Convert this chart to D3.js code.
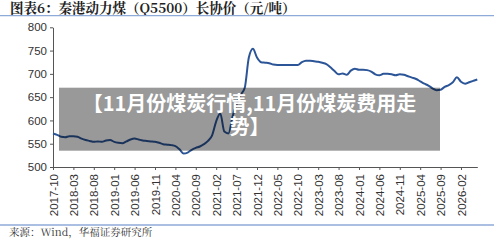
<!DOCTYPE html>
<html lang="zh">
<head>
<meta charset="UTF-8">
<title>秦港动力煤长协价</title>
<script src="https://cdn.jsdelivr.net/npm/d3@7"></script>
<style>
  body { margin: 0; background: #fff; }
  .axis text { font-family: "Liberation Sans", Arial, sans-serif; font-size: 11.5px; fill: #333; }
  .axis path, .axis line { stroke: #555; }
</style>
</head>
<body>
<script>
// 月度数据 2017-10 ~ 2026-06
var startMonth = "2017-10";
var tickLabels = ["2017-10","2018-03","2018-08","2019-01","2019-06","2019-11","2020-04","2020-09",
  "2021-02","2021-07","2021-12","2022-05","2022-10","2023-03","2023-08","2024-01","2024-06",
  "2024-11","2025-04","2025-09","2026-02"];
var yTicks = [500, 550, 600, 650, 700, 750, 800];
var price = [
  572,569,565,564,566,566,565,561,558,556,
  554,555,554,557,558,554,552,551,555,559,
  561,559,557,556,555,554,552,549,548,547,
  545,538,529,531,537,541,544,549,556,568,
  598,615,576,572,608,635,655,670,735,754,
  735,725,724,723,720,719,719,719,719,719,
  719,725,728,728,727,726,724,721,714,706,
  699,701,698,707,711,709,709,708,705,699,
  697,700,700,699,697,699,698,695,692,689,
  684,679,675,669,665,666,672,676,682,693,
  683,679,682,685,688
];

var width = 500, height = 240;
var svg = d3.select("body").append("svg").attr("width", width).attr("height", height);

var t0 = d3.timeParse("%Y-%m")(startMonth);
var fmt = d3.timeFormat("%Y-%m");
var months = price.map(function(d, i) { return fmt(d3.timeMonth.offset(t0, i)); });

// 标题
svg.append("text").attr("x", 10).attr("y", 13)
  .attr("font-family", "'Noto Serif CJK SC','Noto Sans CJK SC',serif")
  .attr("font-weight", "bold").attr("font-size", 13.5).attr("fill", "#222")
  .text("图表6：秦港动力煤（Q5500）长协价（元/吨）");
svg.append("line").attr("x1", 0).attr("x2", 494).attr("y1", 15.7).attr("y2", 15.7)
  .attr("stroke", "#8eaad8").attr("stroke-width", 1.3);

var x = d3.scalePoint().domain(months).range([53, 477.3]);
var y = d3.scaleLinear().domain([500, 800]).range([167, 27.3]);

var xAxis = d3.axisBottom(x).tickValues(tickLabels).tickSize(3).tickSizeOuter(0);
var gx = svg.append("g").attr("class", "axis")
  .attr("transform", "translate(0,167)").call(xAxis);
gx.selectAll("text")
  .attr("transform", "rotate(-90)")
  .attr("text-anchor", "end")
  .attr("x", -7).attr("y", 0).attr("dy", "0.35em");

var yAxis = d3.axisLeft(y).tickValues(yTicks).tickSize(3).tickSizeOuter(0);
svg.append("g").attr("class", "axis")
  .attr("transform", "translate(53,0)").call(yAxis)
  .selectAll("text").attr("x", -6);

var line = d3.line()
  .x(function(d, i) { return x(months[i]); })
  .y(function(d) { return y(d); })
  .curve(d3.curveMonotoneX);
svg.append("path").datum(price)
  .attr("fill", "none").attr("stroke", "#2c5598").attr("stroke-width", 2)
  .attr("stroke-linejoin", "round").attr("d", line);

// 遮罩与文字
svg.append("rect").attr("x", 59).attr("y", 87.7).attr("width", 381).attr("height", 63)
  .attr("fill", "rgba(0,0,0,0.4)");
var lbl = svg.append("text").attr("text-anchor", "middle")
  .attr("font-family", "'Noto Sans CJK SC',sans-serif").attr("font-weight", "bold")
  .attr("font-size", 20).attr("fill", "#fff");
lbl.append("tspan").attr("x", 249.5).attr("y", 111).text("【11月份煤炭行情,11月份煤炭费用走");
lbl.append("tspan").attr("x", 249.5).attr("y", 134).text("势】");

// 来源
svg.append("line").attr("x1", 0).attr("x2", 494).attr("y1", 225).attr("y2", 225)
  .attr("stroke", "#8eaad8").attr("stroke-width", 1.3);
svg.append("text").attr("x", 9).attr("y", 236)
  .attr("font-family", "'Noto Serif CJK SC','Noto Sans CJK SC',serif")
  .attr("font-size", 10.5).attr("fill", "#333")
  .text("来源：Wind，华福证券研究所");
</script>
</body>
</html>
